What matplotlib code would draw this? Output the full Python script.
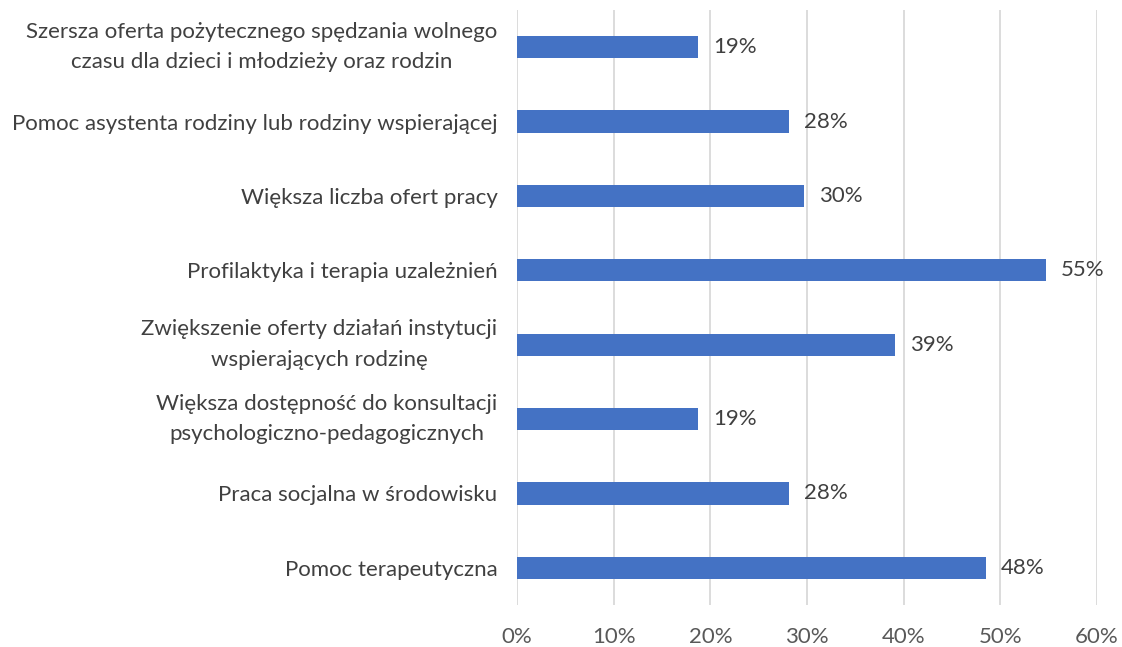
import matplotlib
matplotlib.use("Agg")
import matplotlib.pyplot as plt
from matplotlib.ticker import FuncFormatter

plt.rcParams['font.family'] = ['Lato', 'DejaVu Sans']

categories = [
    "Szersza oferta pożytecznego spędzania wolnego\nczasu dla dzieci i młodzieży oraz rodzin",
    "Pomoc asystenta rodziny lub rodziny wspierającej",
    "Większa liczba ofert pracy",
    "Profilaktyka i terapia uzależnień",
    "Zwiększenie oferty działań instytucji\nwspierających rodzinę",
    "Większa dostępność do konsultacji\npsychologiczno-pedagogicznych",
    "Praca socjalna w środowisku",
    "Pomoc terapeutyczna",
]
values = [18.7, 28.1, 29.7, 54.7, 39.1, 18.7, 28.1, 48.5]
xticks = [0, 10, 20, 30, 40, 50, 60]

fig = plt.figure(figsize=(11.22, 6.47), dpi=100)
ax = fig.add_axes([517/1122, 1-605/647, 580/1122, 595/647])

y = list(range(len(categories)))[::-1]
bars = ax.barh(y, values, height=0.3, color='#4472C4', zorder=3)
for b, v in zip(bars, values):
    ax.annotate(f"{round(v):.0f}%", (b.get_width(), b.get_y() + b.get_height()/2),
                xytext=(11, 0), textcoords='offset points', va='center', ha='left',
                fontsize=16, color='#404040')

ax.set_xlim(0, 60)
ax.set_ylim(-0.5, len(categories) - 0.5)
ax.set_xticks(xticks)
ax.xaxis.set_major_formatter(FuncFormatter(lambda v, p: f"{v:.0f}%"))
ax.set_yticks(y)
labels = ax.set_yticklabels(categories, multialignment='center', linespacing=1.65)
for lab in labels:
    if "\n" in lab.get_text():
        lab.set_verticalalignment('center')
ax.tick_params(axis='y', length=0, pad=14, labelsize=16, labelcolor='#404040')
ax.tick_params(axis='x', length=0, pad=16, labelsize=16, labelcolor='#595959')
ax.grid(axis='x', color='#D9D9D9', linewidth=1.3, zorder=0)
for s in ax.spines.values():
    s.set_visible(False)

fig.savefig("out.png", dpi=100)
